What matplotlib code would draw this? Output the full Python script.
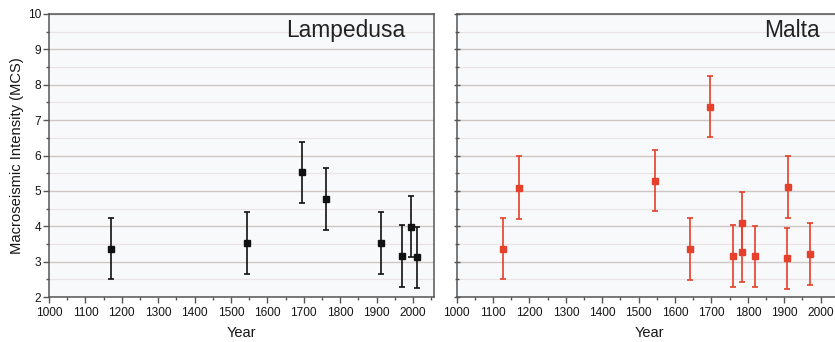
import matplotlib
matplotlib.use("Agg")
import matplotlib.pyplot as plt
from matplotlib.ticker import MultipleLocator

plt.rcParams['font.family'] = ['Liberation Sans', 'DejaVu Sans']

# Lampedusa data
lamp_year = [1171, 1543, 1695, 1760, 1911, 1971, 1996, 2010]
lamp_int = [3.37, 3.52, 5.52, 4.77, 3.52, 3.16, 3.99, 3.12]
lamp_err = [0.87, 0.87, 0.87, 0.87, 0.87, 0.87, 0.87, 0.87]

# Malta data
malta_year = [1126, 1170, 1544, 1640, 1695, 1759, 1785, 1785, 1821, 1908, 1910, 1972]
malta_int = [3.37, 5.09, 5.29, 3.35, 7.38, 3.16, 4.09, 3.28, 3.15, 3.09, 5.12, 3.22]
malta_err = [0.87, 0.89, 0.87, 0.87, 0.87, 0.87, 0.87, 0.87, 0.87, 0.87, 0.88, 0.87]

xticks = list(range(1000, 2001, 100))
yticks = list(range(2, 11))

W, H = 835, 342
fig = plt.figure(figsize=(W / 100, H / 100), dpi=100)
fig.patch.set_facecolor('white')

bottom = (H - 297) / H
height = (297 - 14) / H
axw = 385 / W
ax1 = fig.add_axes([49 / W, bottom, axw, height])
ax2 = fig.add_axes([456.7 / W, bottom, axw, height])

spine_col = '#555555'
txt_col = '#151515'
for ax in (ax1, ax2):
    ax.set_facecolor('#f8f9fb')
    ax.set_xlim(1000, 2058)
    ax.set_ylim(2, 10)
    ax.set_xticks(xticks)
    ax.set_xticklabels([str(t) for t in xticks])
    ax.xaxis.set_minor_locator(MultipleLocator(50))
    ax.set_yticks(yticks)
    ax.yaxis.set_minor_locator(MultipleLocator(0.5))
    ax.grid(axis='y', which='major', color='#cdc6c4', lw=1.0)
    ax.grid(axis='y', which='minor', color='#e7e4e3', lw=0.8)
    ax.set_axisbelow(True)
    for s in ax.spines.values():
        s.set_color(spine_col)
        s.set_linewidth(1.1)
    ax.tick_params(axis='x', which='major', direction='out', length=4, width=1,
                   color=spine_col, labelsize=8.6, pad=3.5, labelcolor=txt_col)
    ax.tick_params(axis='x', which='minor', direction='out', length=2.5, width=1,
                   color=spine_col)
    ax.set_xlabel('Year', fontsize=10.5, color=txt_col, labelpad=5)

ax1.tick_params(axis='y', which='major', direction='out', length=4, width=1,
                color=spine_col, labelsize=8.6, pad=1.5, labelcolor=txt_col)
ax1.tick_params(axis='y', which='minor', direction='out', length=2.5, width=1,
                color=spine_col)
ax1.set_ylabel('Macroseismic Intensity (MCS)', fontsize=10.6, color=txt_col, labelpad=3)

ax2.tick_params(axis='y', which='major', direction='inout', length=5, width=1,
                color=spine_col, labelleft=False)
ax2.tick_params(axis='y', which='minor', direction='inout', length=3, width=1,
                color=spine_col)

ax1.errorbar(lamp_year, lamp_int, yerr=lamp_err, fmt='s', color='#111111',
             ms=3.8, elinewidth=1.2, capsize=2.3, capthick=1.2)
red = '#e5402b'
ax2.errorbar(malta_year, malta_int, yerr=malta_err, fmt='s', color=red,
             ms=3.8, elinewidth=1.2, capsize=2.3, capthick=1.2)

ax1.text(0.925, 0.94, 'Lampedusa', transform=ax1.transAxes, ha='right', va='center',
         fontsize=16.4, color='#222222')
ax2.text(0.944, 0.94, 'Malta', transform=ax2.transAxes, ha='right', va='center',
         fontsize=16.4, color='#222222')

fig.savefig('out.png', dpi=100)
